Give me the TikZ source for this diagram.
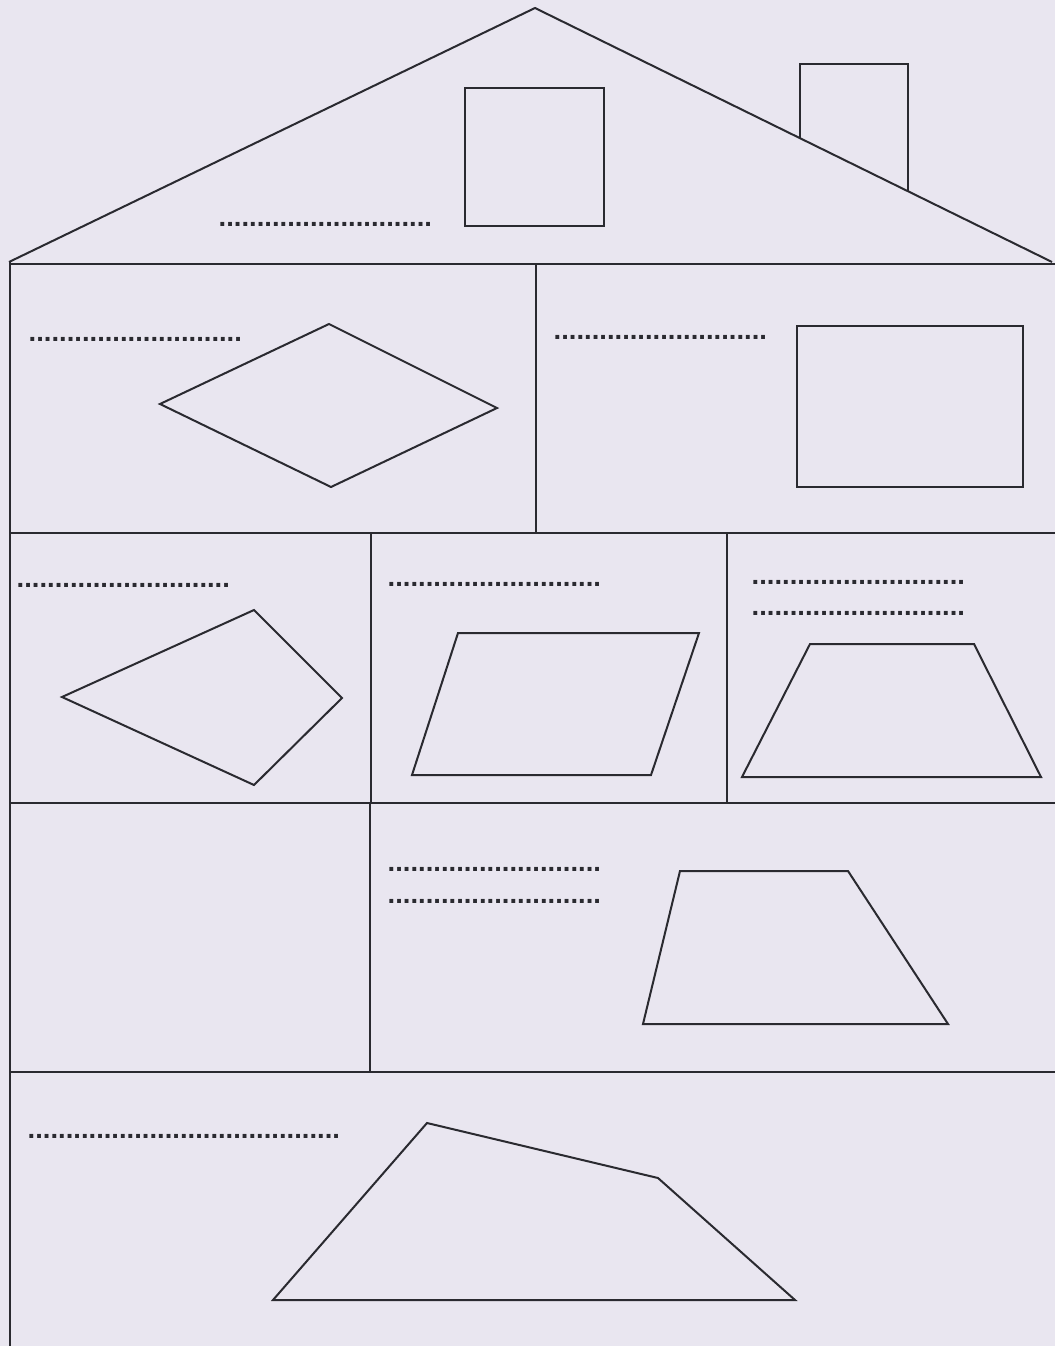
\documentclass[tikz,border=0pt]{standalone}
\usepackage{fontspec}
\setmainfont{Liberation Sans}
\definecolor{bg}{HTML}{E9E6F0}
\definecolor{ink}{HTML}{2A2A30}
\tikzset{
  edge/.style={draw=ink, line width=2pt, line join=miter},
  blank/.style={anchor=base west, inner sep=0pt, text=ink, font=\fontsize{27.4}{30}\selectfont\bfseries}
}
\newcommand{\dotsA}{............................}
\newcommand{\dotsB}{.........................................}
\begin{document}
\begin{tikzpicture}[x=1pt,y=-1pt]
\fill[bg] (0,0) rectangle (1055,1346);
\useasboundingbox (0,0) rectangle (1055,1346);
% roof
\draw[edge] (9,262) -- (535,8) -- (1052,262);
% chimney
\draw[edge] (800,138) -- (800,64) -- (908,64) -- (908,191);
% attic window
\draw[edge] (465,88) rectangle (604,226);
% walls and floors
\draw[edge] (10,262) -- (10,1346);
\draw[edge] (10,264) -- (1055,264);
\draw[edge] (10,533) -- (1055,533);
\draw[edge] (10,803) -- (1055,803);
\draw[edge] (10,1072) -- (1055,1072);
\draw[edge] (536,264) -- (536,533);
\draw[edge] (371,533) -- (371,803);
\draw[edge] (727,533) -- (727,803);
\draw[edge] (370,803) -- (370,1072);
% shapes
\draw[edge] (160,404) -- (329,324) -- (497,408) -- (331,487) -- cycle;
\draw[edge] (797,326) rectangle (1023,487);
\draw[edge] (62,697) -- (254,610) -- (342,698) -- (254,785) -- cycle;
\draw[edge] (458,633) -- (699,633) -- (651,775) -- (412,775) -- cycle;
\draw[edge] (810,644) -- (974,644) -- (1041,777) -- (742,777) -- cycle;
\draw[edge] (680,871) -- (848,871) -- (948,1024) -- (643,1024) -- cycle;
\draw[edge] (427,1123) -- (658,1178) -- (795,1300) -- (273,1300) -- cycle;
% blanks
\node[blank] (b1) at (218.5,226.5) {\dotsA};
\node[blank] (b2) at (28.5,341.5) {\dotsA};
\node[blank] (b3) at (553.5,339.5) {\dotsA};
\node[blank] (b4) at (16.5,587.5) {\dotsA};
\node[blank] (b5) at (387.5,586.5) {\dotsA};
\node[blank] (b6) at (751.5,584.5) {\dotsA};
\node[blank] (b7) at (751.5,615.5) {\dotsA};
\node[blank] (b8) at (387.5,871.5) {\dotsA};
\node[blank] (b9) at (387.5,903.5) {\dotsA};
\node[blank] (b10) at (27.5,1138.5) {\dotsB};
\end{tikzpicture}
\end{document}
